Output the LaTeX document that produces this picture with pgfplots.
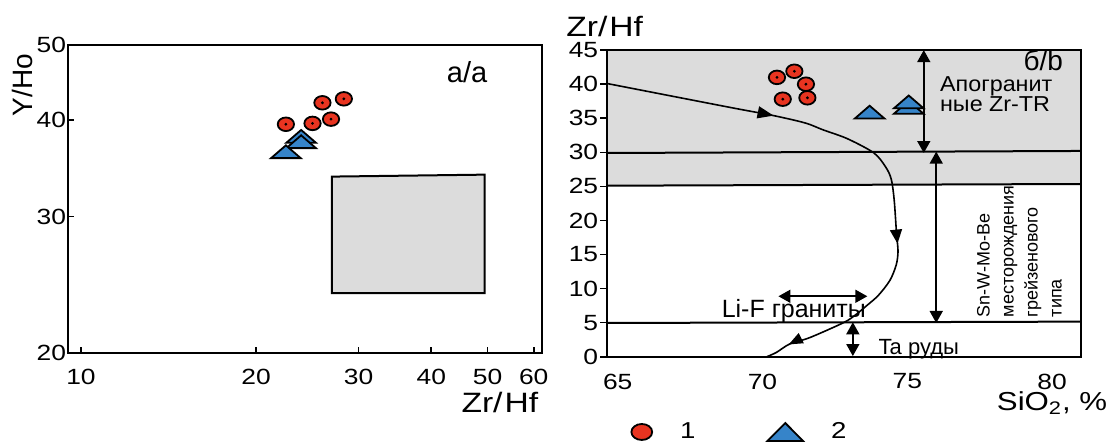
\documentclass[border=0pt]{standalone}
\usepackage{fontspec}
\setmainfont{Liberation Sans}[FakeStretch=1.2]
\newfontfamily\plain{Liberation Sans}
\newfontfamily\semi{Liberation Sans}[FakeStretch=1.08]
\usepackage{pgfplots}
\usepackage{pgfplotstable}
\pgfplotsset{compat=1.18}
\usetikzlibrary{arrows.meta,decorations.markings}
\definecolor{mred}{RGB}{232,52,32}
\definecolor{mblue}{RGB}{54,132,201}
\definecolor{mgray}{RGB}{220,220,220}
\pgfdeclareplotmark{ftri}{%
  \pgfpathmoveto{\pgfqpoint{0pt}{3.2pt}}%
  \pgfpathlineto{\pgfqpoint{7.4pt}{-3.2pt}}%
  \pgfpathlineto{\pgfqpoint{-7.4pt}{-3.2pt}}%
  \pgfpathclose
  \pgfusepathqfillstroke
}
\pgfplotstableread{
x y
22.5 39.5
25.0 39.6
26.0 42.1
26.9 40.1
28.3 42.6
}\redL
\pgfplotstableread{
x y
23.9 38.1
23.9 37.5
22.5 36.4
}\triL
\pgfplotstableread{
x y
70.50 41.0
71.10 41.9
71.50 40.0
70.70 37.8
71.55 38.0
}\redR
\pgfplotstableread{
x y
73.70 35.9
75.05 36.6
75.05 37.4
}\triR
\pgfplotstableread{
x y
64.63 40.1
68.87 36.6
70.37 35.4
71.48 34.3
72.09 33.3
72.93 32.0
73.85 29.9
74.26 27.8
74.45 26.0
74.55 22.9
74.63 18.0
74.68 15.5
74.62 13.5
74.40 11.2
74.00 9.0
73.60 7.5
73.20 6.1
72.80 5.0
71.63 2.8
70.94 1.87
70.48 0.63
70.15 0.0
}\curve
\begin{document}
\begin{tikzpicture}
% ---------- left panel ----------
\begin{axis}[name=L, at={(34pt,-176.5pt)}, anchor=south west,
  scale only axis, width=237pt, height=154pt,
  xmode=log, ymode=log, xmin=9.5, xmax=62, ymin=20, ymax=50,
  xtick={10,20,30,40,50,60}, xticklabels={10,20,30,40,50,60},
  ytick={20,30,40,50}, yticklabels={20,30,40,50},
  xminorticks=false, yminorticks=false,
  tick pos=left, tick align=inside, major tick length=3pt,
  tick style={line width=0.8pt, black},
  axis line style={line width=1pt},
  tick label style={font=\fontsize{11}{13}\selectfont},
  /pgf/number format/assume math mode=true,
  xticklabel style={yshift=-4.5pt},
  yticklabel style={xshift=2.5pt},
  xlabel={Zr/\kern1pt Hf}, ylabel={Y/Ho},
  xlabel style={font=\fontsize{14}{16}\selectfont, at={(axis description cs:0.911,-0.162)}, anchor=center},
  ylabel style={font=\plain\fontsize{14}{16}\selectfont, at={(axis description cs:-0.095,0.87)}, anchor=center},
  axis on top]
\addplot[fill=mgray, draw=black, line width=1pt] coordinates {(27.0,23.9) (49.4,23.9) (49.4,34.0) (27.0,33.8)} -- cycle;
\addplot[only marks, mark=ftri, mark options={fill=mblue, draw=black, line width=0.9pt}] table {\triL};
\addplot[only marks, mark=*, mark size=3.4pt, mark options={fill=mred, draw=black, line width=0.9pt, xscale=1.2}] table {\redL};
\addplot[only marks, mark=*, mark size=0.5pt, black] table {\redL};
\node[font=\plain\fontsize{14.5}{16}\selectfont] at (rel axis cs:0.842,0.912) {а/a};
\end{axis}
% ---------- right panel ----------
\begin{axis}[name=R, at={(303.5pt,-178.35pt)}, anchor=south west,
  scale only axis, width=237pt, height=153.3pt,
  xmin=64.63, xmax=81, ymin=0, ymax=45,
  xtick={65,70,75,80}, ytick={0,5,...,45},
  tick pos=left, tick align=outside, major tick length=3.5pt,
  xtick style={draw=none}, ytick style={line width=0.8pt, black},
  axis line style={line width=1pt},
  tick label style={font=\fontsize{11}{13}\selectfont},
  /pgf/number format/assume math mode=true,
  xticklabel style={yshift=-1.5pt},
  yticklabel style={xshift=2.6pt},
  xlabel={SiO\textsubscript{2}, \%}, ylabel={Zr/\kern1pt Hf},
  xlabel style={font=\fontsize{13}{15}\selectfont, at={(axis description cs:0.939,-0.152)}, anchor=center},
  ylabel style={font=\fontsize{14}{16}\selectfont, rotate=-90, at={(axis description cs:-0.005,1.077)}, anchor=center},
  clip=false, axis on top,
  legend columns=2,
  legend style={at={(axis description cs:0.0506,-0.2455)}, anchor=west, draw=none, fill=none,
    inner sep=0pt, font=\fontsize{11.5}{13}\selectfont,
    /tikz/every odd column/.append style={column sep=12pt},
    /tikz/every even column/.append style={column sep=34pt}}]
\addplot[forget plot, fill=mgray, draw=none] coordinates {(64.63,25.1) (81,25.35) (81,45) (64.63,45)} -- cycle;
\addplot[forget plot, black, line width=1pt] coordinates {(64.63,29.9) (81,30.2)};
\addplot[forget plot, black, line width=1pt] coordinates {(64.63,25.1) (81,25.35)};
\addplot[forget plot, black, line width=1pt] coordinates {(64.63,4.95) (81,5.15)};
\addplot[forget plot, smooth, tension=0.5, line width=0.8pt, postaction={decorate},
  decoration={markings,
    mark=at position 0.303 with {\arrow{Triangle[length=8pt,width=6pt]}},
    mark=at position 0.668 with {\arrow{Triangle[length=7pt,width=6pt]}},
    mark=at position 0.955 with {\arrow{Triangle[length=7pt,width=5.5pt]}}}] table {\curve};
\addplot[forget plot, line width=0.8pt, >={Triangle[length=6pt,width=6.5pt]}, <->] coordinates {(75.57,45) (75.57,29.9)};
\addplot[forget plot, line width=0.8pt, >={Triangle[length=6pt,width=6.5pt]}, <->] coordinates {(76.0,30.1) (76.0,4.95)};
\addplot[forget plot, line width=0.8pt, >={Triangle[length=6pt,width=6.5pt]}, <->] coordinates {(73.12,5.05) (73.12,0.1)};
\addplot[forget plot, line width=0.8pt, >={Triangle[length=6pt,width=6.5pt]}, <->] coordinates {(70.55,8.87) (73.62,8.87)};
\addplot[forget plot, only marks, mark=ftri, mark options={fill=mblue, draw=black, line width=0.9pt}] table {\triR};
\addplot[forget plot, only marks, mark=*, mark size=3.4pt, mark options={fill=mred, draw=black, line width=0.9pt, xscale=1.2}] table {\redR};
\addplot[forget plot, only marks, mark=*, mark size=0.5pt, black] table {\redR};
\node[anchor=base west, inner sep=0pt, font=\plain\fontsize{14}{16}\selectfont] at (axis cs:79.0,42.0) {б/b};
\node[anchor=base west, inner sep=0pt, font=\semi\fontsize{10.8}{13}\selectfont] at (axis cs:76.12,39.0) {Апогранит};
\node[anchor=base west, inner sep=0pt, font=\semi\fontsize{10.8}{13}\selectfont] at (axis cs:76.12,36.0) {ные Zr-TR};
\node[rotate=90, anchor=north west, inner sep=0pt, align=left, font=\plain\fontsize{9}{12}\selectfont] at (axis cs:77.4,5.74) {Sn-W-Mo-Be\\месторождения\\грейзенового\\типа};
\node[anchor=base west, inner sep=0pt, font=\plain\fontsize{12.5}{14}\selectfont] at (axis cs:68.58,5.78) {Li-F граниты};
\node[anchor=base west, inner sep=0pt, font=\plain\fontsize{11}{13}\selectfont] at (axis cs:74.0,0.3) {Ta руды};
\addlegendimage{only marks, mark=*, mark size=4pt, mark options={fill=mred, draw=black, line width=0.9pt, xscale=1.3}}
\addlegendentry{1}
\addlegendimage{only marks, mark=ftri, mark options={fill=mblue, draw=black, line width=0.9pt, xscale=1.2, yscale=1.4}}
\addlegendentry{2}
\end{axis}
\pgfresetboundingbox
\path[use as bounding box] (0pt,0pt) rectangle (553.5pt,-223pt);
\end{tikzpicture}
\end{document}
